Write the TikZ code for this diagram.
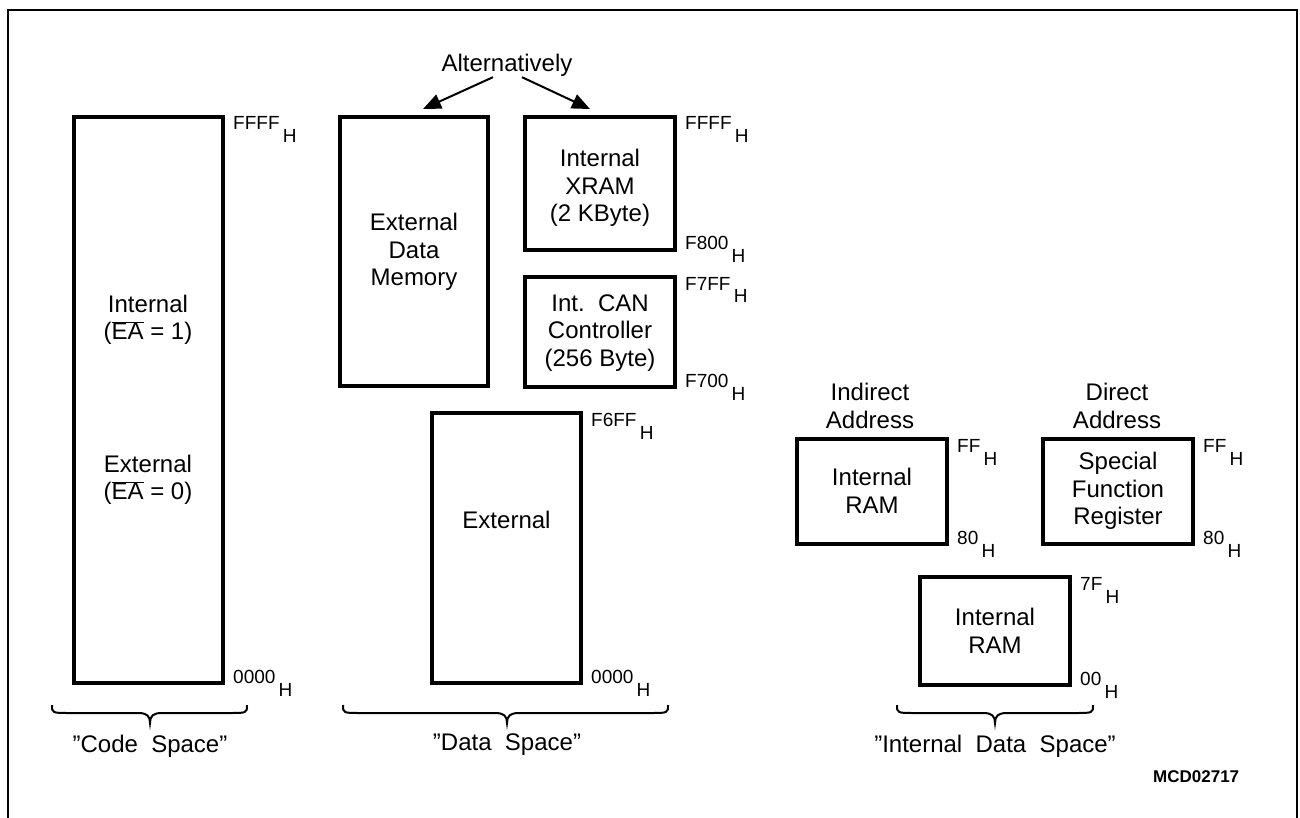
\documentclass[tikz,border=0pt]{standalone}
\usepackage{fontspec}
\setmainfont{Liberation Sans}
\newfontfamily\labfont{Liberation Sans}
\newfontfamily\mcdfont{Liberation Sans}
\usetikzlibrary{arrows.meta}
\newcommand\hsub{\,\raisebox{-13pt}{H}}
\newcommand\eabar{\ensuremath{\overline{\hbox{EA}}}}
\newcommand\membrace[3]{%
  \draw[bracestyle] (#1,705) .. controls (#1,713) and (#1,713) .. (#1+18,713)
    -- (#3-12,713) .. controls (#3-3,713) and (#3,716) .. (#3,723)
    .. controls (#3,716) and (#3+3,713) .. (#3+12,713)
    -- (#2-18,713) .. controls (#2,713) and (#2,713) .. (#2,705);}
\begin{document}
\begin{tikzpicture}[x=1pt,y=-1pt,
  mem/.style={draw, line width=4pt, outer sep=0pt, inner sep=0pt},
  txt/.style={font=\fontsize{24}{27.5}\selectfont, align=center, inner sep=0pt},
  lab/.style={font=\labfont\fontsize{19}{19}\selectfont, anchor=base west, inner sep=0pt},
  arr/.style={line width=2pt, -{Triangle[length=18pt,width=15pt]}},
  bracestyle/.style={line width=2pt},
]
\useasboundingbox (0,0) rectangle (1300,818);
% frame
\draw[line width=2.5pt] (8,830) -- (8,10) -- (1297,10) -- (1297,830);

% code space
\node[mem, minimum width=149pt, minimum height=566pt] (code) at (148.5,400) {};
\node[txt] (codeint) at (148,320) {Internal\\(\eabar\ = 1)};
\node[txt] (codeext) at (148,480) {External\\(\eabar\ = 0)};
\node[lab] (codetop) at ([shift={(10,13)}]code.north east) {FFFF\hsub};
\node[lab] (codebot) at ([shift={(10,0)}]code.south east) {0000\hsub};

% data space
\node[mem, minimum width=148pt, minimum height=269pt] (edm) at (414,251.5) {};
\node[txt] (edmt) at (414,252) {External\\Data\\Memory};
\node[mem, minimum width=150pt, minimum height=133pt] (xram) at (600,183.5) {};
\node[txt] (xramt) at (600,188) {Internal\\XRAM\\(2 KByte)};
\node[lab] (xramtop) at ([shift={(10,13)}]xram.north east) {FFFF\hsub};
\node[lab] (xrambot) at ([shift={(10,0)}]xram.south east) {F800\hsub};
\node[mem, minimum width=150pt, minimum height=110pt] (can) at (600,332) {};
\node[txt] (cant) at (600,333) {Int.\ \ CAN\\Controller\\(256 Byte)};
\node[lab] (cantop) at ([shift={(10,13)}]can.north east) {F7FF\hsub};
\node[lab] (canbot) at ([shift={(10,0)}]can.south east) {F700\hsub};
\node[mem, minimum width=149pt, minimum height=270pt] (ext) at (506.5,548) {};
\node[txt] (extt) at (506.5,520) {External};
\node[lab] (exttop) at ([shift={(10,13)}]ext.north east) {F6FF\hsub};
\node[lab] (extbot) at ([shift={(10,0)}]ext.south east) {0000\hsub};

\node[txt, anchor=base] (alt) at (507,72) {Alternatively};
\coordinate (tipL) at (423,109);
\coordinate (tipR) at (590,109);
\draw[arr] ([xshift=-14pt]alt.south) -- (tipL);
\draw[arr] ([xshift=15pt]alt.south) -- (tipR);

% internal data space
\node[txt] (indir) at (870,406) {Indirect\\Address};
\node[txt] (dir) at (1117,406) {Direct\\Address};
\node[mem, minimum width=150pt, minimum height=105pt] (iram) at (872,491.5) {};
\node[txt] (iramt) at (872,491) {Internal\\RAM};
\node[lab] (iramtop) at ([shift={(10,13)}]iram.north east) {FF\hsub};
\node[lab] (irambot) at ([shift={(10,0)}]iram.south east) {80\hsub};
\node[mem, minimum width=150pt, minimum height=105pt] (sfr) at (1118,491.5) {};
\node[txt] (sfrt) at (1118,491) {Special\\Function\\Register};
\node[lab] (sfrtop) at ([shift={(10,13)}]sfr.north east) {FF\hsub};
\node[lab] (sfrbot) at ([shift={(10,0)}]sfr.south east) {80\hsub};
\node[mem, minimum width=150pt, minimum height=108pt] (lram) at (995,631) {};
\node[txt] (lramt) at (995,631) {Internal\\RAM};
\node[lab] (lramtop) at ([shift={(10,13)}]lram.north east) {7F\hsub};
\node[lab] (lrambot) at ([shift={(10,0)}]lram.south east) {00\hsub};

% braces
\membrace{52}{247}{150}
\membrace{343}{668}{507}
\membrace{897}{1093}{995}
\node[txt, anchor=base] (cs) at (150,752) {”Code\ \ Space”};
\node[txt, anchor=base] (ds) at (507,750) {”Data\ \ Space”};
\node[txt, anchor=base] (ids) at (995,752) {”Internal\ \ Data\ \ Space”};
\node[anchor=base west, inner sep=0pt, font=\mcdfont\bfseries\fontsize{17}{17}\selectfont] (mcd) at (1153,782) {MCD02717};
\end{tikzpicture}
\end{document}
